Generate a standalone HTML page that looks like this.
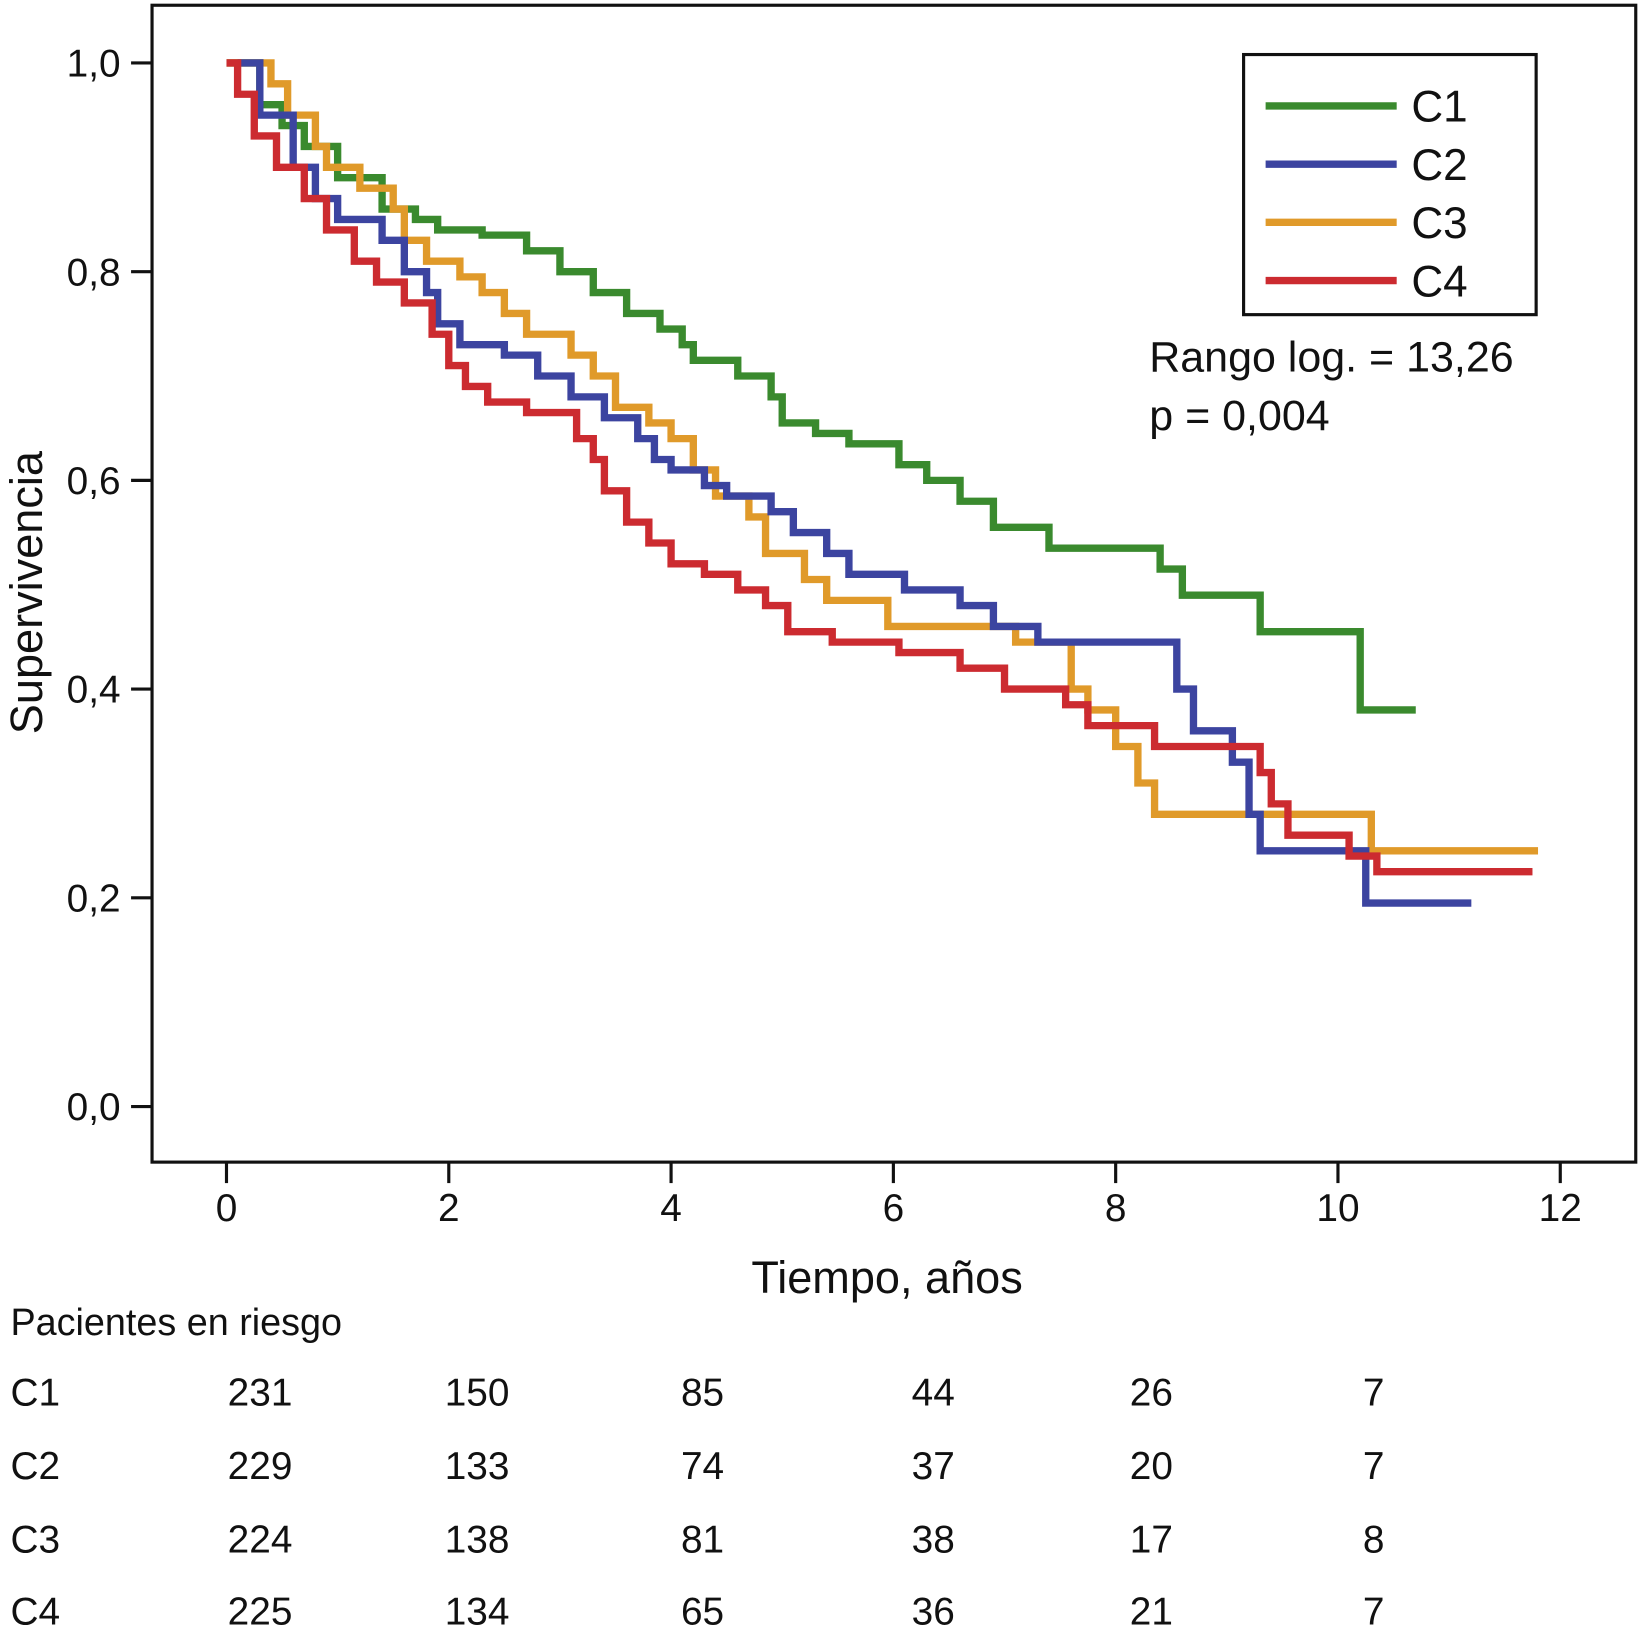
<!DOCTYPE html>
<html><head><meta charset="utf-8"><style>
html,body{margin:0;padding:0;background:#fff}
svg{display:block}
text{font-family:"Liberation Sans",sans-serif;fill:#111}
</style></head><body>
<svg id="chart" width="1641" height="1632" viewBox="0 0 1565 1556" preserveAspectRatio="none" xmlns="http://www.w3.org/2000/svg">
<rect x="145" y="5" width="1415" height="1103" fill="none" stroke="#111" stroke-width="3"/>
<g id="axes"></g>
<g id="series"></g>
<g>
<rect x="1186" y="52" width="279" height="248" fill="#fff" stroke="#111" stroke-width="3"/>
<g id="legend-entries"></g>
</g>
<text x="1096" y="354" font-size="41">Rango log. = 13,26</text>
<text x="1096" y="410" font-size="41">p = 0,004</text>
<text x="846" y="1233" font-size="43" text-anchor="middle">Tiempo, años</text>
<text transform="translate(40,565) rotate(-90)" font-size="43" text-anchor="middle">Supervivencia</text>
<text x="10" y="1273" font-size="36">Pacientes en riesgo</text>
<g id="risk"></g>
</svg>
<script>
const xTicks=[0,2,4,6,8,10,12];
const yTicks=[0,0.2,0.4,0.6,0.8,1.0];
const yTickLabels=["0,0","0,2","0,4","0,6","0,8","1,0"];
const groups=["C1","C2","C3","C4"];
const colors=["#3a8a2e","#3c44a0","#e09a2a","#cc2b30"];
const c1T=[0,0.3,0.5,0.7,1.0,1.4,1.7,1.9,2.3,2.7,3.0,3.3,3.6,3.9,4.1,4.2,4.6,4.9,5.0,5.3,5.6,6.05,6.3,6.6,6.9,7.4,8.4,8.6,9.3,10.2,10.7];
const c1S=[1.0,0.96,0.94,0.92,0.89,0.86,0.85,0.84,0.835,0.82,0.80,0.78,0.76,0.745,0.73,0.715,0.70,0.68,0.655,0.645,0.635,0.615,0.60,0.58,0.555,0.535,0.515,0.49,0.455,0.38,0.38];
const c2T=[0.1,0.3,0.6,0.8,1.0,1.4,1.6,1.8,1.9,2.1,2.5,2.8,3.1,3.4,3.7,3.85,4.0,4.3,4.5,4.9,5.1,5.4,5.6,6.1,6.6,6.9,7.3,8.55,8.7,9.05,9.2,9.3,10.25,11.2];
const c2S=[1.0,0.95,0.90,0.87,0.85,0.83,0.80,0.78,0.75,0.73,0.72,0.70,0.68,0.66,0.64,0.62,0.61,0.595,0.585,0.57,0.55,0.53,0.51,0.495,0.48,0.46,0.445,0.40,0.36,0.33,0.28,0.245,0.195,0.195];
const c3T=[0,0.3,0.4,0.55,0.8,0.9,1.2,1.5,1.6,1.8,2.1,2.3,2.5,2.7,3.1,3.3,3.5,3.8,4.0,4.2,4.4,4.7,4.85,5.2,5.4,5.95,7.1,7.6,7.75,8.0,8.2,8.35,10.3,11.8];
const c3S=[1.0,1.0,0.98,0.95,0.92,0.90,0.88,0.86,0.83,0.81,0.795,0.78,0.76,0.74,0.72,0.70,0.67,0.655,0.64,0.61,0.585,0.565,0.53,0.505,0.485,0.46,0.445,0.40,0.38,0.345,0.31,0.28,0.245,0.245];
const c4T=[0,0.1,0.25,0.45,0.7,0.9,1.15,1.35,1.6,1.85,2.0,2.15,2.35,2.7,3.15,3.3,3.4,3.6,3.8,4.0,4.3,4.6,4.85,5.05,5.45,6.05,6.6,7.0,7.55,7.75,8.35,9.3,9.4,9.55,10.1,10.35,11.75];
const c4S=[1.0,0.97,0.93,0.90,0.87,0.84,0.81,0.79,0.77,0.74,0.71,0.69,0.675,0.665,0.64,0.62,0.59,0.56,0.54,0.52,0.51,0.495,0.48,0.455,0.445,0.435,0.42,0.40,0.385,0.365,0.345,0.32,0.29,0.26,0.24,0.225,0.225];
const riskCols=["0","2","4","6","8","10"];
const riskC1=[231,150,85,44,26,7];
const riskC2=[229,133,74,37,20,7];
const riskC3=[224,138,81,38,17,8];
const riskC4=[225,134,65,36,21,7];

const NS="http://www.w3.org/2000/svg";
const X=t=>216+t*106;
const Y=s=>1055-s*995;
function mk(tag,attrs,parent){const e=document.createElementNS(NS,tag);for(const k in attrs)e.setAttribute(k,attrs[k]);parent.appendChild(e);return e;}
const axes=document.getElementById('axes');
xTicks.forEach(t=>{
  const l=mk('line',{x1:X(t),x2:X(t),y1:1108,y2:1128,stroke:'#111','stroke-width':3},axes);
  
  
  const tx=mk('text',{x:X(t),y:1164,'font-size':37,'text-anchor':'middle'},axes);
  tx.textContent=t;
  
  
});
yTicks.forEach((v,i)=>{
  const l=mk('line',{x1:125,x2:145,y1:Y(v),y2:Y(v),stroke:'#111','stroke-width':3},axes);
  
  
  const tx=mk('text',{x:115,y:Y(v)+13,'font-size':37,'text-anchor':'end'},axes);
  tx.textContent=yTickLabels[i];
  
  
});
const series=document.getElementById('series');
const allT=[c1T,c2T,c3T,c4T], allS=[c1S,c2S,c3S,c4S];
[0,2,1,3].forEach(i=>{
  const T=allT[i],S=allS[i];
  let d='M'+X(T[0])+' '+Y(S[0]);
  for(let k=1;k<T.length;k++){d+=' H'+X(T[k])+' V'+Y(S[k]);}
  const p=mk('path',{d:d,fill:'none',stroke:colors[i],'stroke-width':7,'stroke-linejoin':'miter'},series);
  
  
});
const leg=document.getElementById('legend-entries');
groups.forEach((g,i)=>{
  const y=101+i*55.5;
  const l=mk('line',{x1:1207,x2:1332,y1:y,y2:y,stroke:colors[i],'stroke-width':7},leg);
  
  
  const t=mk('text',{x:1346,y:y+15,'font-size':42},leg);
  t.textContent=g;
  
  
});
const risk=document.getElementById('risk');
const rows=[riskC1,riskC2,riskC3,riskC4];
const rowY=[1340,1410,1480,1549];
const colX=[248,455,670,890,1098,1310];
rows.forEach((r,i)=>{
  const lab=mk('text',{x:10,y:rowY[i],'font-size':37},risk);
  lab.textContent=groups[i];
  
  
  r.forEach((v,j)=>{
    const t=mk('text',{x:colX[j],y:rowY[i],'font-size':37,'text-anchor':'middle'},risk);
    t.textContent=v;
    
    
  });
});
</script>
</body></html>
